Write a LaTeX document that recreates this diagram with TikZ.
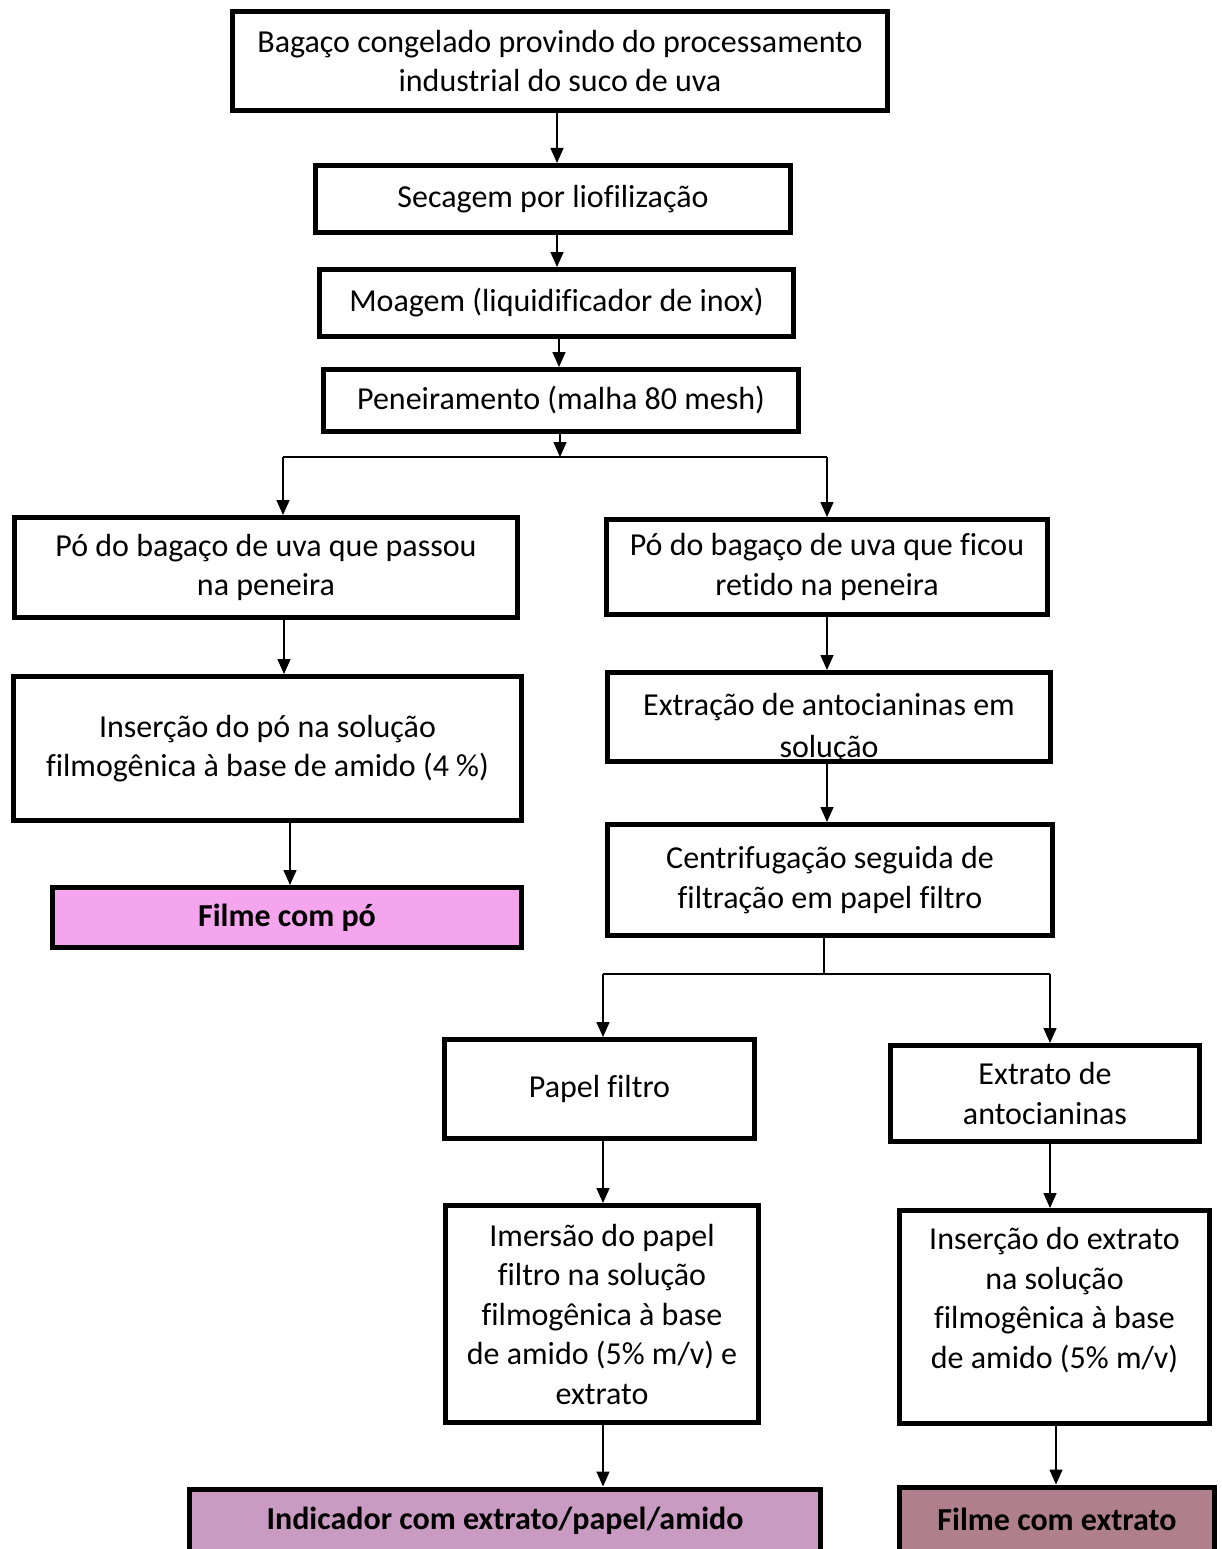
\documentclass[tikz,border=0pt]{standalone}
\usepackage{fontspec}
\setmainfont{Carlito}[Ligatures={NoCommon}]
\usetikzlibrary{arrows.meta}
\definecolor{pinkA}{HTML}{F5A5EE}
\definecolor{mauveB}{HTML}{C99BC2}
\definecolor{mauveC}{HTML}{AF7F8E}
\begin{document}
\begin{tikzpicture}[x=1bp,y=-1bp,
  box/.style={draw, line width=5bp, align=center, inner sep=0pt, fill=white,
    font=\fontsize{32bp}{39.5bp}\selectfont},
  btxt/.style={align=center, inner sep=0pt, font=\fontsize{32bp}{39.5bp}\selectfont},
  boldbox/.style={box, font=\fontsize{32bp}{39.5bp}\selectfont\bfseries},
  arr/.style={line width=1.5bp, -{Triangle[width=13bp,length=15bp]}},
  ln/.style={line width=1.5bp}]
\fill[white] (0,0) rectangle (1221,1549);
\useasboundingbox (0,0) rectangle (1221,1549);

% main column
\node[box, minimum width=655bp, minimum height=99bp] (b1) at (560,61)
  {Bagaço congelado provindo do processamento\\industrial do suco de uva};
\node[box, minimum width=475bp, minimum height=67bp] (b2) at (553,199)
  {Secagem por liofilização};
\node[box, minimum width=474bp, minimum height=67bp] (b3) at (556.5,303)
  {Moagem (liquidificador de inox)};
\node[box, minimum width=475bp, minimum height=62bp] (b4) at (561,400.5)
  {Peneiramento (malha 80 mesh)};

% left branch
\node[box, minimum width=503bp, minimum height=100bp] (b5) at (266,567.5)
  {Pó do bagaço de uva que passou\\na peneira};
\node[box, minimum width=508bp, minimum height=144bp] (b7) at (267.5,748.5)
  {Inserção do pó na solução\\filmogênica à base de amido (4 \%)};
\node[boldbox, fill=pinkA, minimum width=469bp, minimum height=60bp] (b10) at (287,917.5)
  {Filme com pó};

% right branch
\node[box, minimum width=441bp, minimum height=95bp] (b6) at (827,567)
  {Pó do bagaço de uva que ficou\\retido na peneira};
\node[box, minimum width=443bp, minimum height=89bp] (b8) at (829,717) {};
\begin{scope}
  \clip (607.5,672.5) rectangle (1050.5,759);
  \node[btxt, font=\fontsize{32bp}{42bp}\selectfont] (b8t) at (829,728) {Extração de antocianinas em\\solução};
\end{scope}
\node[box, minimum width=445bp, minimum height=111bp] (b9) at (830,880)
  {Centrifugação seguida de\\filtração em papel filtro};

\node[box, minimum width=310bp, minimum height=99bp] (b11) at (599.5,1089)
  {Papel filtro};
\node[box, minimum width=309bp, minimum height=96bp] (b12) at (1045,1093.5)
  {Extrato de\\antocianinas};
\node[box, minimum width=313bp, minimum height=217bp] (b13) at (602,1314)
  {Imersão do papel\\filtro na solução\\filmogênica à base\\de amido (5\% m/v) e\\extrato};
\node[box, minimum width=310bp, minimum height=213bp] (b14) at (1054.5,1317) {};
\node[btxt] (b14t) at (1054.5,1300)
  {Inserção do extrato\\na solução\\filmogênica à base\\de amido (5\% m/v)};
\node[boldbox, fill=mauveB, minimum width=631bp, minimum height=64bp] (b15) at (505,1521)
  {Indicador com extrato/papel/amido};
\node[boldbox, fill=mauveC, minimum width=315bp, minimum height=64bp] (b16) at (1057,1519)
  {Filme com extrato};

% split points
\coordinate (s1) at (560,457);
\coordinate (s1l) at (283,457);
\coordinate (s1r) at (827,457);
\coordinate (s2) at (824,974);
\coordinate (s2l) at (603,974);
\coordinate (s2r) at (1050,974);

% connectors
\draw[arr] (b1.south -| 557,0) -- (b2.north -| 557,0);
\draw[arr] (b2.south -| 557,0) -- (b3.north -| 557,0);
\draw[arr] (b3.south -| 559,0) -- (b4.north -| 559,0);
\draw[arr] (b4.south -| s1) -- (s1);
\draw[ln] (s1l) -- (s1r);
\draw[arr] (s1l) -- (s1l |- b5.north);
\draw[arr] (s1r) -- (s1r |- b6.north);
\draw[arr] (b5.south -| 284,0) -- (b7.north -| 284,0);
\draw[arr] (b7.south -| 290,0) -- (b10.north -| 290,0);
\draw[arr] (b6.south -| s1r) -- (b8.north -| s1r);
\draw[arr] (b8.south -| s1r) -- (b9.north -| s1r);
\draw[ln] (b9.south -| s2) -- (s2);
\draw[ln] (s2l) -- (s2r);
\draw[arr] (s2l) -- (s2l |- b11.north);
\draw[arr] (s2r) -- (s2r |- b12.north);
\draw[arr] (b11.south -| s2l) -- (b13.north -| s2l);
\draw[arr] (b12.south -| s2r) -- (b14.north -| s2r);
\draw[arr] (b13.south -| s2l) -- (b15.north -| s2l);
\draw[arr] (b14.south -| 1056,0) -- (b16.north -| 1056,0);
\end{tikzpicture}
\end{document}
